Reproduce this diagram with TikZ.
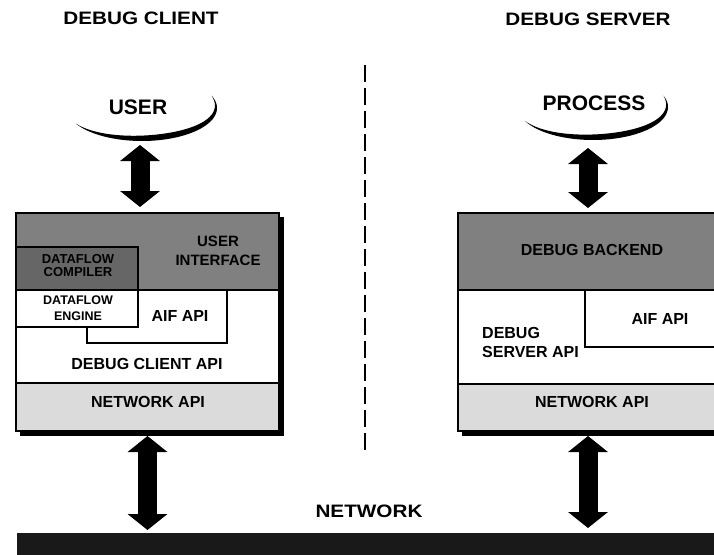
\documentclass[tikz,border=0pt]{standalone}
\usepackage{fontspec}
\setmainfont{Liberation Sans}
\newfontfamily\headfont{Liberation Sans}[FakeStretch=1.15]
\usetikzlibrary{arrows.meta}

\definecolor{darkstip}{gray}{0.50}
\definecolor{compstip}{gray}{0.40}
\definecolor{lightstip}{gray}{0.86}
\definecolor{barstip}{gray}{0.10}

\begin{document}
\begin{tikzpicture}[x=1pt,y=-1pt,
  heading/.style={font=\headfont\bfseries\fontsize{18}{20}\selectfont, inner sep=0pt},
  actor/.style={font=\bfseries\fontsize{21}{23}\selectfont, inner sep=0pt},
  lbl/.style={font=\bfseries\fontsize{16}{19}\selectfont, inner sep=0pt, align=center},
  uilbl/.style={font=\bfseries\fontsize{15}{19}\selectfont, inner sep=0pt, align=center},
  complbl/.style={font=\bfseries\fontsize{13}{13}\selectfont, inner sep=0pt, align=center},
  englbl/.style={font=\bfseries\fontsize{12.5}{16}\selectfont, inner sep=0pt, align=center},
  frame/.style={line width=2pt},
  divider/.style={line width=1.8pt},
  area/.style={inner sep=0pt, outer sep=0pt, anchor=north west},
  dbl/.style={line width=19pt, line cap=butt,
    {Triangle[width=39pt,length=16pt]}-{Triangle[width=39pt,length=16pt]}},
  crescent/.style={fill=black}
]
\useasboundingbox (0,0) rectangle (714,554);

% ---------- headings ----------
\node[heading] (clienttitle) at (141,18) {DEBUG CLIENT};
\node[heading] (servertitle) at (588,19) {DEBUG SERVER};

% ---------- separator ----------
\draw[line width=2.8pt, dash pattern=on 17pt off 6pt] (365,65) -- (365,453);

% ---------- user and process ----------
\node[actor] (user) at (138,107) {USER};
\fill[crescent]
  plot[domain=-22:152, samples=80] ({142+75*cos(\x)}, {108+33*sin(\x)})
  -- plot[domain=152:-22, samples=80]
     ({142+(75-6*sin((\x+22)*1.0345))*cos(\x)}, {108+(33-6*sin((\x+22)*1.0345))*sin(\x)})
  -- cycle;
\coordinate (userfoot) at (140,141);

\node[actor] (process) at (594,103) {PROCESS};
\fill[crescent]
  plot[domain=-20:155, samples=80] ({593+75*cos(\x)}, {107+33*sin(\x)})
  -- plot[domain=155:-20, samples=80]
     ({593+(75-6*sin((\x+20)*1.0286))*cos(\x)}, {107+(33-6*sin((\x+20)*1.0286))*sin(\x)})
  -- cycle;
\coordinate (procfoot) at (588,141);

% ---------- client stack ----------
\node[area, minimum width=263pt, minimum height=218pt] (clientbox) at (16,213) {};
\fill (20,217) rectangle (284,436);
\fill[white] (16,213) rectangle (279,431);
\fill[darkstip] (16,213) rectangle (279,290);
\fill[compstip] (16,247) rectangle (138,290);
\fill[lightstip] (16,383) rectangle (279,431);
\draw[divider] (16,290) -- (279,290);
\draw[divider] (16,247) -- (138,247) -- (138,327) -- (16,327);
\draw[divider] (87,327) -- (87,343) -- (227,343) -- (227,290);
\draw[divider] (16,383) -- (279,383);
\draw[frame] (16,213) rectangle (279,431);

\node[uilbl] (ui) at (218,251) {USER\\INTERFACE};
\node[complbl] (dfcomp) at (78,266) {DATAFLOW\\COMPILER};
\node[englbl] (dfeng) at (78,308) {DATAFLOW\\ENGINE};
\node[lbl] (aifclient) at (180,316) {AIF API};
\node[lbl] (clientapi) at (147,364) {DEBUG CLIENT API};
\node[lbl] (netclient) at (148,402) {NETWORK API};

% ---------- server stack ----------
\node[area, minimum width=260pt, minimum height=218pt] (serverbox) at (458,213) {};
\fill (462,217) rectangle (722,436);
\fill[white] (458,213) rectangle (718,431);
\fill[darkstip] (458,213) rectangle (718,290);
\fill[lightstip] (458,384) rectangle (718,431);
\draw[divider] (458,290) -- (718,290);
\draw[divider] (585,290) -- (585,347) -- (718,347);
\draw[divider] (458,384) -- (718,384);
\draw[frame] (458,213) rectangle (718,431);

\node[lbl] (backend) at (592,250) {DEBUG BACKEND};
\node[lbl] (aifserver) at (660,319) {AIF API};
\node[lbl, align=left, anchor=west] (serverapi) at (482,342) {DEBUG\\SERVER API};
\node[lbl] (netserver) at (592,402) {NETWORK API};

% ---------- network ----------
\node[area, fill=barstip, minimum width=705pt, minimum height=25pt] (netbar) at (17,533) {};
\node[heading] (netlabel) at (369,511) {NETWORK};

% ---------- data paths ----------
\draw[dbl, shorten <=4pt, shorten >=6pt] (userfoot) -- (userfoot |- clientbox.north);
\draw[dbl, shorten <=7pt, shorten >=5pt] (procfoot) -- (procfoot |- serverbox.north);
\draw[dbl, shorten <=5pt, shorten >=3pt] (clientbox.south) -- (clientbox.south |- netbar.north);
\draw[dbl, shorten <=5pt, shorten >=5pt] (serverbox.south) -- (serverbox.south |- netbar.north);
\end{tikzpicture}
\end{document}
